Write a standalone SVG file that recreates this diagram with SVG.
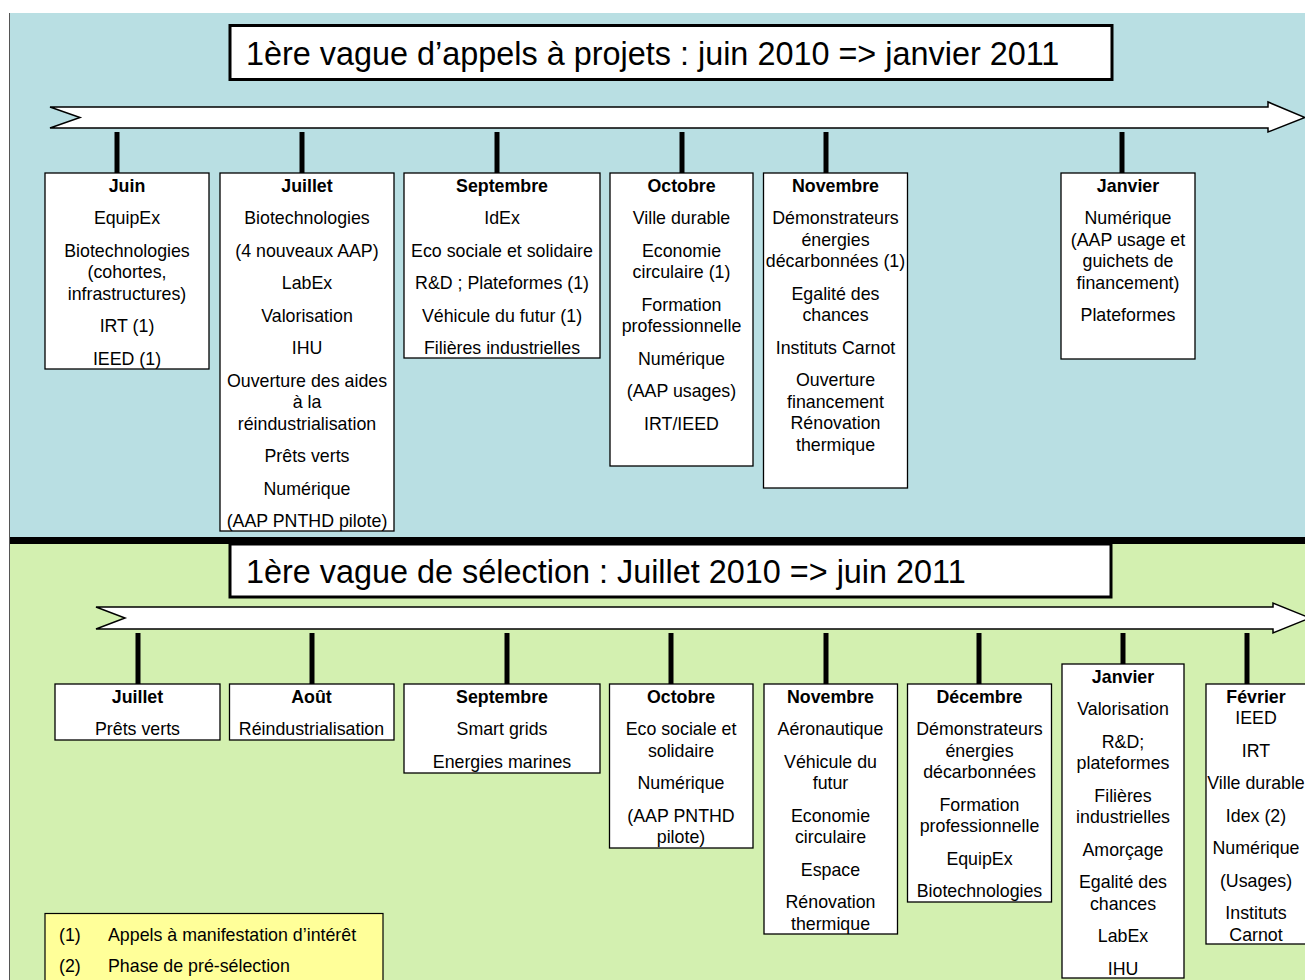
<svg xmlns="http://www.w3.org/2000/svg" width="1305" height="980" viewBox="0 0 1305 980">
<style>
.t{font-family:"Liberation Sans",Arial,sans-serif;font-size:17.8px;fill:#000;text-anchor:middle}
.b{font-weight:bold}
.box{fill:#fff;stroke:#000;stroke-width:1.3}
.title{fill:#fff;stroke:#000;stroke-width:3}
.tt{font-family:"Liberation Sans",Arial,sans-serif;font-size:32.4px;fill:#000}
.tick{stroke:#000;stroke-width:5}
.arrow{fill:#fff;stroke:#000;stroke-width:1.5;stroke-linejoin:miter}
.lg{font-family:"Liberation Sans",Arial,sans-serif;font-size:17.8px;fill:#000}
</style>
<rect x="0" y="0" width="1305" height="980" fill="#fff"/>
<g id="bg">
<rect x="9.5" y="13" width="1300" height="524" fill="#b9dfe3"/>
<rect x="9.5" y="544" width="1300" height="440" fill="#d3f0b0"/>
<line x1="9.5" y1="13" x2="9.5" y2="980" stroke="#555" stroke-width="1"/>
<rect x="10" y="537" width="1300" height="7" fill="#000"/>
</g>
<g id="title1">
<rect class="title" x="230" y="25.5" width="882" height="54"/>
<text class="tt" x="246" y="65">1ère vague d’appels à projets : juin 2010 =&gt; janvier 2011</text>
</g>
<g id="title2">
<rect class="title" x="230" y="544" width="881" height="53"/>
<text class="tt" x="246" y="583">1ère vague de sélection : Juillet 2010 =&gt; juin 2011</text>
</g>
<g id="connectors">
<polygon class="arrow" points="50,107 1268,107 1268,102 1305,117.5 1268,132 1268,128 50,128 80,117.5"/>
<polygon class="arrow" points="96,607 1273,607 1273,603 1310,618 1273,633 1273,629 96,629 125,618"/>
<line class="tick" x1="117" y1="132" x2="117" y2="173"/>
<line class="tick" x1="302" y1="132" x2="302" y2="173"/>
<line class="tick" x1="497" y1="132" x2="497" y2="173"/>
<line class="tick" x1="682" y1="132" x2="682" y2="173"/>
<line class="tick" x1="826" y1="132" x2="826" y2="173"/>
<line class="tick" x1="1122" y1="132" x2="1122" y2="173"/>
<line class="tick" x1="138" y1="633" x2="138" y2="684"/>
<line class="tick" x1="312" y1="633" x2="312" y2="684"/>
<line class="tick" x1="507" y1="633" x2="507" y2="684"/>
<line class="tick" x1="671" y1="633" x2="671" y2="684"/>
<line class="tick" x1="826" y1="633" x2="826" y2="684"/>
<line class="tick" x1="979" y1="633" x2="979" y2="684"/>
<line class="tick" x1="1123" y1="633" x2="1123" y2="664"/>
<line class="tick" x1="1247" y1="633" x2="1247" y2="684"/>
</g>
<g id="top-juin">
<rect class="box" x="45" y="173" width="164" height="196"/>
<text class="t b" x="127" y="191.5">Juin</text>
<text class="t" x="127" y="224">EquipEx</text>
<text class="t" x="127" y="256.5">Biotechnologies</text>
<text class="t" x="127" y="278">(cohortes,</text>
<text class="t" x="127" y="299.5">infrastructures)</text>
<text class="t" x="127" y="332">IRT (1)</text>
<text class="t" x="127" y="364.5">IEED (1)</text>
</g>
<g id="top-juillet">
<rect class="box" x="220" y="173" width="174" height="358"/>
<text class="t b" x="307" y="191.5">Juillet</text>
<text class="t" x="307" y="224">Biotechnologies</text>
<text class="t" x="307" y="256.5">(4 nouveaux AAP)</text>
<text class="t" x="307" y="289">LabEx</text>
<text class="t" x="307" y="321.5">Valorisation</text>
<text class="t" x="307" y="354">IHU</text>
<text class="t" x="307" y="386.5">Ouverture des aides</text>
<text class="t" x="307" y="408">à la</text>
<text class="t" x="307" y="429.5">réindustrialisation</text>
<text class="t" x="307" y="462">Prêts verts</text>
<text class="t" x="307" y="494.5">Numérique</text>
<text class="t" x="307" y="527">(AAP PNTHD pilote)</text>
</g>
<g id="top-septembre">
<rect class="box" x="404" y="173" width="196" height="185"/>
<text class="t b" x="502" y="191.5">Septembre</text>
<text class="t" x="502" y="224">IdEx</text>
<text class="t" x="502" y="256.5">Eco sociale et solidaire</text>
<text class="t" x="502" y="289">R&amp;D ; Plateformes (1)</text>
<text class="t" x="502" y="321.5">Véhicule du futur (1)</text>
<text class="t" x="502" y="354">Filières industrielles</text>
</g>
<g id="top-octobre">
<rect class="box" x="610" y="173" width="143" height="293"/>
<text class="t b" x="681.5" y="191.5">Octobre</text>
<text class="t" x="681.5" y="224">Ville durable</text>
<text class="t" x="681.5" y="256.5">Economie</text>
<text class="t" x="681.5" y="278">circulaire (1)</text>
<text class="t" x="681.5" y="310.5">Formation</text>
<text class="t" x="681.5" y="332">professionnelle</text>
<text class="t" x="681.5" y="364.5">Numérique</text>
<text class="t" x="681.5" y="397">(AAP usages)</text>
<text class="t" x="681.5" y="429.5">IRT/IEED</text>
</g>
<g id="top-novembre">
<rect class="box" x="763.5" y="173" width="144" height="315"/>
<text class="t b" x="835.5" y="191.5">Novembre</text>
<text class="t" x="835.5" y="224">Démonstrateurs</text>
<text class="t" x="835.5" y="245.5">énergies</text>
<text class="t" x="835.5" y="267">décarbonnées (1)</text>
<text class="t" x="835.5" y="299.5">Egalité des</text>
<text class="t" x="835.5" y="321">chances</text>
<text class="t" x="835.5" y="353.5">Instituts Carnot</text>
<text class="t" x="835.5" y="386">Ouverture</text>
<text class="t" x="835.5" y="407.5">financement</text>
<text class="t" x="835.5" y="429">Rénovation</text>
<text class="t" x="835.5" y="450.5">thermique</text>
</g>
<g id="top-janvier">
<rect class="box" x="1061" y="173" width="134" height="186"/>
<text class="t b" x="1128" y="191.5">Janvier</text>
<text class="t" x="1128" y="224">Numérique</text>
<text class="t" x="1128" y="245.5">(AAP usage et</text>
<text class="t" x="1128" y="267">guichets de</text>
<text class="t" x="1128" y="288.5">financement)</text>
<text class="t" x="1128" y="321">Plateformes</text>
</g>
<g id="bot-juillet">
<rect class="box" x="55" y="684" width="165" height="56"/>
<text class="t b" x="137.5" y="702.5">Juillet</text>
<text class="t" x="137.5" y="735">Prêts verts</text>
</g>
<g id="bot-aout">
<rect class="box" x="229.5" y="684" width="164.5" height="56"/>
<text class="t b" x="311.5" y="702.5">Août</text>
<text class="t" x="311.5" y="735">Réindustrialisation</text>
</g>
<g id="bot-septembre">
<rect class="box" x="404" y="684" width="196" height="89"/>
<text class="t b" x="502" y="702.5">Septembre</text>
<text class="t" x="502" y="735">Smart grids</text>
<text class="t" x="502" y="767.5">Energies marines</text>
</g>
<g id="bot-octobre">
<rect class="box" x="609.5" y="684" width="143.5" height="164"/>
<text class="t b" x="681" y="702.5">Octobre</text>
<text class="t" x="681" y="735">Eco sociale et</text>
<text class="t" x="681" y="756.5">solidaire</text>
<text class="t" x="681" y="789">Numérique</text>
<text class="t" x="681" y="821.5">(AAP PNTHD</text>
<text class="t" x="681" y="843">pilote)</text>
</g>
<g id="bot-novembre">
<rect class="box" x="764" y="684" width="133.5" height="250"/>
<text class="t b" x="830.5" y="702.5">Novembre</text>
<text class="t" x="830.5" y="735">Aéronautique</text>
<text class="t" x="830.5" y="767.5">Véhicule du</text>
<text class="t" x="830.5" y="789">futur</text>
<text class="t" x="830.5" y="821.5">Economie</text>
<text class="t" x="830.5" y="843">circulaire</text>
<text class="t" x="830.5" y="875.5">Espace</text>
<text class="t" x="830.5" y="908">Rénovation</text>
<text class="t" x="830.5" y="929.5">thermique</text>
</g>
<g id="bot-decembre">
<rect class="box" x="907.5" y="684" width="144" height="218"/>
<text class="t b" x="979.5" y="702.5">Décembre</text>
<text class="t" x="979.5" y="735">Démonstrateurs</text>
<text class="t" x="979.5" y="756.5">énergies</text>
<text class="t" x="979.5" y="778">décarbonnées</text>
<text class="t" x="979.5" y="810.5">Formation</text>
<text class="t" x="979.5" y="832">professionnelle</text>
<text class="t" x="979.5" y="864.5">EquipEx</text>
<text class="t" x="979.5" y="897">Biotechnologies</text>
</g>
<g id="bot-janvier">
<rect class="box" x="1062" y="664" width="122" height="314"/>
<text class="t b" x="1123" y="682.5">Janvier</text>
<text class="t" x="1123" y="715">Valorisation</text>
<text class="t" x="1123" y="747.5">R&amp;D;</text>
<text class="t" x="1123" y="769">plateformes</text>
<text class="t" x="1123" y="801.5">Filières</text>
<text class="t" x="1123" y="823">industrielles</text>
<text class="t" x="1123" y="855.5">Amorçage</text>
<text class="t" x="1123" y="888">Egalité des</text>
<text class="t" x="1123" y="909.5">chances</text>
<text class="t" x="1123" y="942">LabEx</text>
<text class="t" x="1123" y="974.5">IHU</text>
</g>
<g id="bot-fevrier">
<rect class="box" x="1206" y="684" width="100" height="260"/>
<text class="t b" x="1256" y="702.5">Février</text>
<text class="t" x="1256" y="724">IEED</text>
<text class="t" x="1256" y="756.5">IRT</text>
<text class="t" x="1256" y="789">Ville durable</text>
<text class="t" x="1256" y="821.5">Idex (2)</text>
<text class="t" x="1256" y="854">Numérique</text>
<text class="t" x="1256" y="886.5">(Usages)</text>
<text class="t" x="1256" y="919">Instituts</text>
<text class="t" x="1256" y="940.5">Carnot</text>
</g>
<g id="legend">
<rect x="45" y="913.5" width="338" height="80" fill="#ffff99" stroke="#000" stroke-width="1.2"/>
<text class="lg" x="59" y="941">(1)</text>
<text class="lg" x="108" y="941">Appels à manifestation d’intérêt</text>
<text class="lg" x="59" y="972">(2)</text>
<text class="lg" x="108" y="972">Phase de pré-sélection</text>
</g>
</svg>
